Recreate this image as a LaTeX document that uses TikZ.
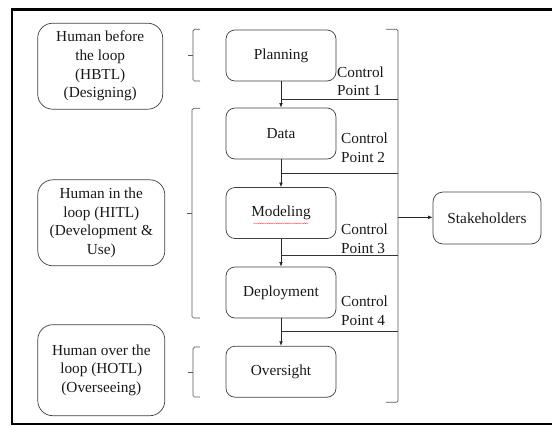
\documentclass[tikz,border=0pt]{standalone}
\usepackage{fontspec}
\setmainfont{Liberation Serif}
\usetikzlibrary{arrows.meta,decorations.pathmorphing}
\begin{document}
\begin{tikzpicture}[x=1pt,y=-1pt,
  font=\fontsize{15.3}{18.7}\selectfont,
  every node/.style={text=black!90},
  stagebox/.style={draw=black!75, line width=0.7pt, rounded corners=9pt,
    minimum width=110pt, minimum height=51pt, inner sep=0pt},
  rolebox/.style={draw=black!75, line width=0.7pt, rounded corners=15pt,
    align=center, inner sep=0pt},
  cplabel/.style={anchor=west, align=left, inner sep=0pt},
  flow/.style={draw=black!85, line width=0.6pt, -{Latex[length=4.5pt,width=3.6pt]}},
  tie/.style={draw=black!80, line width=0.6pt},
  bracketline/.style={draw=black!65, line width=0.7pt, rounded corners=1.5pt}]
\useasboundingbox (0,0) rectangle (552,426);

% outer frame (open on the right)
\draw[line width=2.6pt] (552,9.5) -- (12,9.5) -- (12,424) -- (552,424);

% life-cycle stages
\node[stagebox] (plan) at (281,55.5) {Planning};
\node[stagebox] (data) at (281,133.5) {Data};
\node[stagebox] (model) at (281,213) {Modeling};
\node[stagebox] (deploy) at (281,292.5) {Deployment};
\node[stagebox] (over) at (281,371.7) {Oversight};

% spell-check squiggle under "Modeling"
\draw[red!70, line width=0.3pt, decorate,
  decoration={snake, segment length=1.8pt, amplitude=0.45pt}]
  (253.5,223.3) -- (308,223.3);

% human roles
\node[rolebox, minimum width=125pt, minimum height=86pt] (hbtl) at (100.2,66.2)
  {Human before\\the loop\\(HBTL)\\(Designing)};
\node[rolebox, minimum width=127pt, minimum height=86pt] (hitl) at (101.3,222.8)
  {Human in the\\loop (HITL)\\(Development \&\\Use)};
\node[rolebox, minimum width=127pt, minimum height=91pt] (hotl) at (101.3,370.2)
  {Human over the\\loop (HOTL)\\(Overseeing)};

% stakeholders
\node[stagebox, minimum width=108pt, minimum height=52pt, rounded corners=10pt]
  (stake) at (487,218) {Stakeholders};

% flow between stages
\draw[flow] (plan) -- (data);
\draw[flow] (data) -- (model);
\draw[flow] (model) -- (deploy);
\draw[flow] (deploy) -- (over);

% right bracket collecting the control points
\coordinate (rbtop) at (398,29.3);
\coordinate (rbbot) at (398,402.3);
\draw[bracketline] (386,29.3) -- (rbtop) -- (rbbot) -- (386,402.3);

% control-point taps
\coordinate (cp1) at (281,99.3);
\coordinate (cp2) at (281,173.3);
\coordinate (cp3) at (281,255.7);
\coordinate (cp4) at (281,331.7);
\draw[tie] (cp1) -- (cp1 -| rbtop);
\draw[tie] (cp2) -- (cp2 -| rbtop);
\draw[tie] (cp3) -- (cp3 -| rbtop);
\draw[tie] (cp4) -- (cp4 -| rbtop);

\node[cplabel] (l1) at (337,81.4) {Control\\Point 1};
\node[cplabel] (l2) at (341,148) {Control\\Point 2};
\node[cplabel] (l3) at (341,238.8) {Control\\Point 3};
\node[cplabel] (l4) at (341,310.5) {Control\\Point 4};

% bracket to stakeholders
\coordinate (rbmid) at (398,217.3);
\draw[flow] (rbmid) -- (stake.west |- rbmid);

% left braces grouping stages by role
\draw[bracketline] (200,29.3) -- (193,29.3) -- (193,81) -- (200,81);
\draw[tie, draw=black!65] (188,55.2) -- (193,55.2);
\draw[bracketline] (200,108.3) -- (192,108.3) -- (192,318) -- (200,318);
\draw[tie, draw=black!65] (187,213) -- (192,213);
\draw[bracketline] (200,347) -- (193,347) -- (193,397) -- (200,397);
\draw[tie, draw=black!65] (188,372) -- (193,372);
\end{tikzpicture}
\end{document}
